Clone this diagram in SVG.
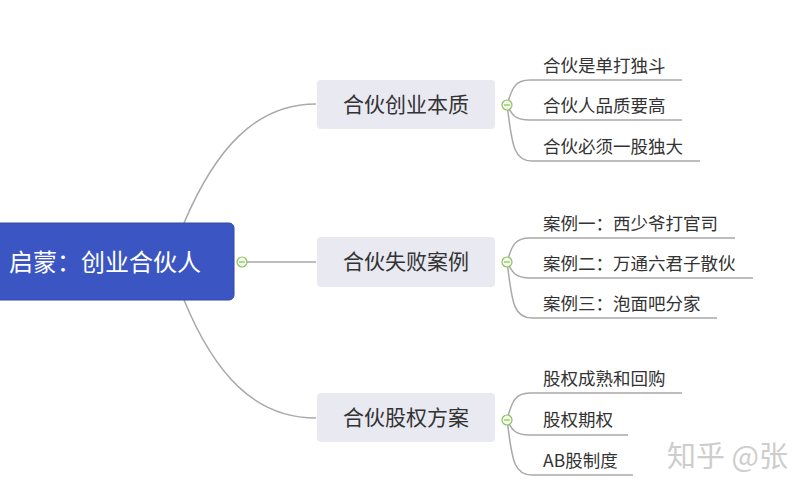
<svg xmlns="http://www.w3.org/2000/svg" width="800" height="500" viewBox="0 0 800 500">
<style>
.edge{fill:none;stroke:#a9a9a9;stroke-width:1.5}
.root{fill:#3b56c2;stroke:#3149a8;stroke-width:1}
.rt{fill:#ffffff;font-family:"Noto Sans CJK SC","Noto Sans",sans-serif;font-size:24px}
.mid{fill:#e9e9f1}
.mt{fill:#333;font-family:"Noto Sans CJK SC","Noto Sans",sans-serif;font-size:21px}
.ct{fill:#333;font-family:"Noto Sans CJK SC","Noto Sans",sans-serif;font-size:17.5px}
.tog{fill:#f4fbe9;stroke:#8cc063;stroke-width:1.2}
.togl{stroke:#8cc063;stroke-width:1.2}
</style>
<rect width="800" height="500" fill="#ffffff"/>
<g id="connectors">
<path class="edge" d="M184,223 C215,150 255,104 316,104"/>
<path class="edge" d="M247,262 L316,262"/>
<path class="edge" d="M184,300 C215,375 255,418 316,418"/>
<path class="edge" d="M507,105 C512,88 515,80 530,80 L682,80"/>
<path class="edge" d="M507,105 C512,115 515,120 530,120 L682,120"/>
<path class="edge" d="M507,105 C512,140 512,161 532,161 L700,161"/>
<path class="edge" d="M507,262 C512,245 515,238 530,238 L735,238"/>
<path class="edge" d="M507,262 C512,272 515,278 530,278 L753,278"/>
<path class="edge" d="M507,262 C512,298 512,318 532,318 L717,318"/>
<path class="edge" d="M507,420 C512,401 515,393 530,393 L682,393"/>
<path class="edge" d="M507,420 C512,430 515,435 530,435 L628,435"/>
<path class="edge" d="M507,420 C512,455 512,475 532,475 L633,475"/>
</g>
<g id="root">
<rect class="root" x="-8" y="223" width="242" height="77" rx="5"/>
<text class="rt" x="105" y="271" text-anchor="middle">启蒙：创业合伙人</text>
<circle class="tog" cx="242" cy="262" r="5"/>
<line class="togl" x1="239" y1="262" x2="245" y2="262"/>
</g>
<g id="n1">
<rect class="mid" x="317" y="80" width="178" height="49" rx="4"/>
<text class="mt" x="406" y="112" text-anchor="middle">合伙创业本质</text>
<circle class="tog" cx="507" cy="105" r="5"/>
<line class="togl" x1="504" y1="105" x2="510" y2="105"/>
</g>
<g id="n2">
<rect class="mid" x="317" y="237" width="178" height="50" rx="4"/>
<text class="mt" x="406" y="269" text-anchor="middle">合伙失败案例</text>
<circle class="tog" cx="507" cy="262" r="5"/>
<line class="togl" x1="504" y1="262" x2="510" y2="262"/>
</g>
<g id="n3">
<rect class="mid" x="317" y="393" width="178" height="49" rx="4"/>
<text class="mt" x="406" y="425" text-anchor="middle">合伙股权方案</text>
<circle class="tog" cx="507" cy="420" r="5"/>
<line class="togl" x1="504" y1="420" x2="510" y2="420"/>
</g>
<g id="c11"><text class="ct" x="543" y="72">合伙是单打独斗</text></g>
<g id="c12"><text class="ct" x="543" y="112">合伙人品质要高</text></g>
<g id="c13"><text class="ct" x="543" y="153">合伙必须一股独大</text></g>
<g id="c21"><text class="ct" x="543" y="230">案例一：西少爷打官司</text></g>
<g id="c22"><text class="ct" x="543" y="270">案例二：万通六君子散伙</text></g>
<g id="c23"><text class="ct" x="543" y="310">案例三：泡面吧分家</text></g>
<g id="c31"><text class="ct" x="543" y="385">股权成熟和回购</text></g>
<g id="c32"><text class="ct" x="543" y="426">股权期权</text></g>
<g id="c33"><text class="ct" x="543" y="467">AB股制度</text></g>
<text x="667" y="467" fill="#cdcdcd" font-family="Noto Sans CJK SC,Noto Sans,sans-serif" font-size="29">知乎 @张</text>
</svg>
